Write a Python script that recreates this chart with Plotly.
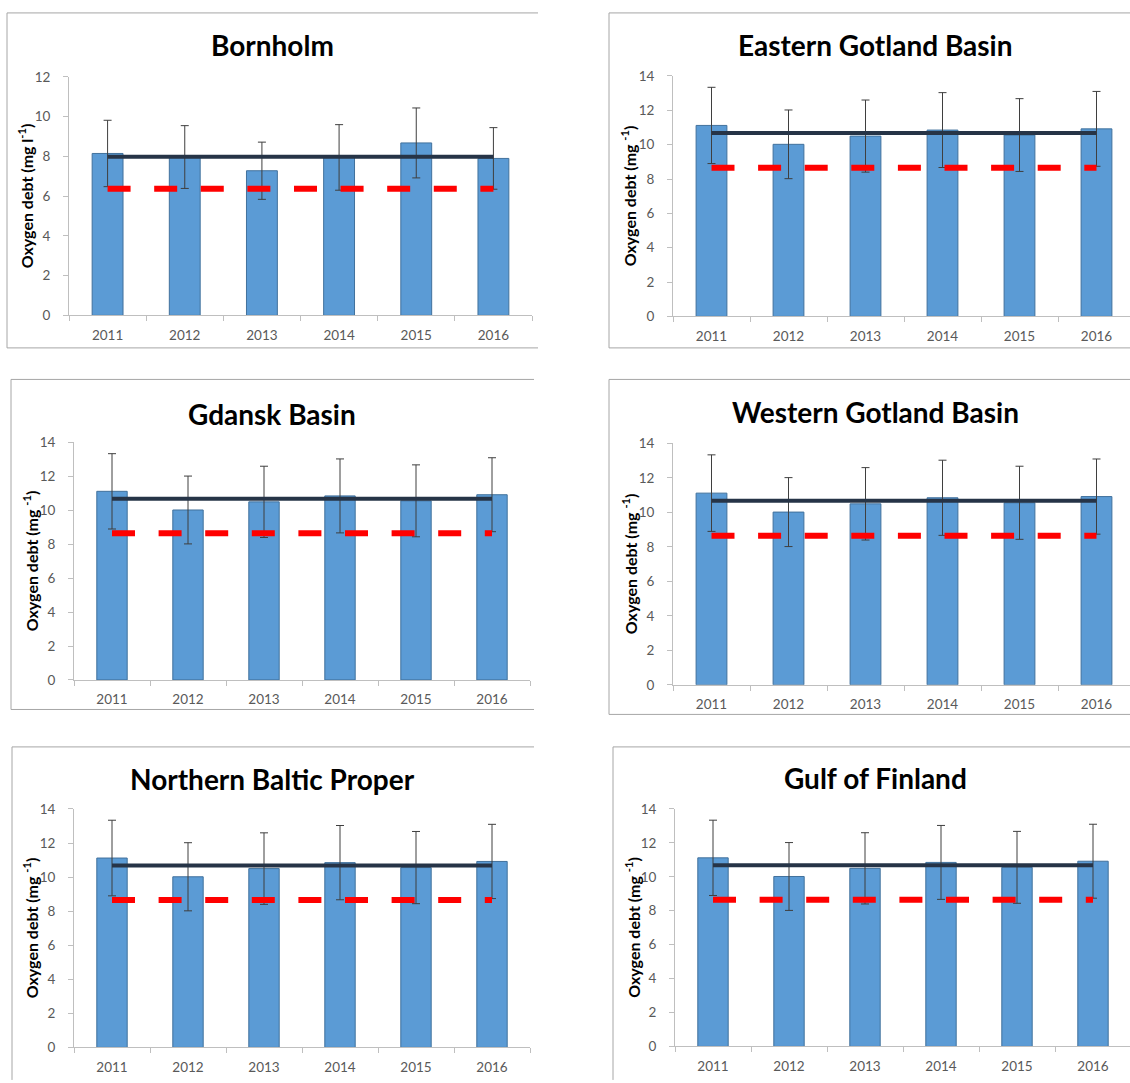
import plotly.graph_objects as go

W, H = 1130, 1083

# ---------------- data ----------------
years = ["2011", "2012", "2013", "2014", "2015", "2016"]
region_names = ["Bornholm", "Eastern Gotland Basin", "Gdansk Basin",
                "Western Gotland Basin", "Northern Baltic Proper", "Gulf of Finland"]

bornholm_values = [8.15, 7.97, 7.28, 7.95, 8.68, 7.90]
bornholm_errors = [1.67, 1.58, 1.44, 1.65, 1.76, 1.55]
bornholm_average = 7.98
bornholm_target = 6.38

basin_values = [11.12, 10.02, 10.50, 10.85, 10.56, 10.92]
basin_errors = [2.22, 2.00, 2.10, 2.18, 2.12, 2.18]
basin_average = 10.68
basin_target = 8.65

y_max = [12, 14, 14, 14, 14, 14]
y_titles = ["Oxygen debt (mg l<sup>-1</sup>)"] + ["Oxygen debt (mg <sup>-1</sup>)"] * 5

values = [bornholm_values] + [basin_values] * 5
errors = [bornholm_errors] + [basin_errors] * 5
averages = [bornholm_average] + [basin_average] * 5
targets = [bornholm_target] + [basin_target] * 5

# ---------------- layout geometry (screen pixels) ----------------
plot_boxes = [
    (69, 532, 70, 312),
    (673, 1135, 69, 313),
    (74, 530, 441, 682),
    (673, 1135, 442, 687),
    (74, 530, 813, 1055),
    (675, 1131, 813, 1054),
]
title_pos = [(272, 38), (875, 38), (272, 412), (875, 410), (272, 783), (875, 782)]
ytitle_x = [25, 628, 30, 629, 30, 633]
borders = [
    (7, 5, 538, 345),
    (609, 5, None, 345),
    (11, 377, 534, 712),
    (609, 377, None, 717),
    (12, 750, 534, None),
    (613, 750, None, None),
]


def px(x):
    return x / W


def py(y):
    return 1 - y / H


def clamp(v):
    return max(0.0, min(1.0, v))


BAR = "#5B9BD5"
BAR_EDGE = "#41719C"
AXIS = "#BFBFBF"
FONT = "Lato, Open Sans, sans-serif"
TICKFONT = dict(family=FONT, size=13.5, color="#595959")

fig = go.Figure()
layout = dict(
    width=W, height=H, margin=dict(l=0, r=0, t=0, b=0),
    paper_bgcolor="white", plot_bgcolor="white",
    showlegend=False, bargap=0.6,
    annotations=[], shapes=[],
)

for i in range(6):
    n = "" if i == 0 else str(i + 1)
    xref, yref = "x" + n, "y" + n
    x0, x1, yt, yb = plot_boxes[i]
    step = (x1 - x0) / 6.0
    xend = min(x1, W)
    r_end = -0.5 + (xend - x0) / step

    fig.add_trace(go.Bar(
        x=years, y=values[i], xaxis=xref, yaxis=yref,
        marker=dict(color=BAR, line=dict(color=BAR_EDGE, width=1)),
        error_y=dict(type="data", array=errors[i], visible=True,
                     color="#3F3F3F", thickness=1, width=4),
        hoverinfo="x+y",
    ))
    fig.add_trace(go.Scatter(
        x=[years[0], years[-1]], y=[averages[i], averages[i]],
        xaxis=xref, yaxis=yref, mode="lines",
        line=dict(color="#263447", width=4),
    ))
    fig.add_trace(go.Scatter(
        x=[years[0], years[-1]], y=[targets[i], targets[i]],
        xaxis=xref, yaxis=yref, mode="lines",
        line=dict(color="#FF0000", width=6, dash="23px,23.6px"),
    ))

    layout["xaxis" + n] = dict(
        domain=[clamp(px(x0)), clamp(px(xend))], anchor=yref, type="category",
        range=[-0.5, r_end], tickson="boundaries", ticks="outside",
        ticklen=5, tickcolor=AXIS, showline=True, linecolor=AXIS, linewidth=1,
        showgrid=False, zeroline=False, tickfont=TICKFONT,
        ticklabelstandoff=7, fixedrange=True,
    )
    layout["yaxis" + n] = dict(
        domain=[clamp(py(yb)), clamp(py(yt))], anchor=xref,
        range=[0, y_max[i]], dtick=2, ticks="outside", ticklen=5,
        tickcolor=AXIS, showline=True, linecolor=AXIS, linewidth=1,
        showgrid=False, zeroline=False, tickfont=TICKFONT,
        ticklabelstandoff=10, fixedrange=True,
    )

    tx, ty = title_pos[i]
    layout["annotations"].append(dict(
        text=region_names[i], x=px(tx), y=py(ty), xref="paper", yref="paper",
        xanchor="center", yanchor="middle", showarrow=False,
        font=dict(family=FONT, size=28, color="black", weight="bold"),
    ))
    layout["annotations"].append(dict(
        text=y_titles[i], x=px(ytitle_x[i]), y=py((yt + yb) / 2),
        xref="paper", yref="paper", xanchor="center", yanchor="middle",
        textangle=-90, showarrow=False,
        font=dict(family=FONT, size=16, color="black", weight="bold"),
    ))

    bl, bt, br, bb = borders[i]
    right = br if br is not None else W + 5
    bottom = bb if bb is not None else H + 5
    line_style = dict(color="#A6A6A6", width=1)
    segs = [(bl, bt, right, bt), (bl, bt, bl, bottom)]
    if bb is not None:
        segs.append((bl, bb, right, bb))
    for (ax0, ay0, ax1, ay1) in segs:
        layout["shapes"].append(dict(
            type="line", xref="paper", yref="paper",
            x0=px(ax0), x1=px(ax1), y0=py(ay0), y1=py(ay1),
            line=line_style, layer="above",
        ))

fig.update_layout(**layout)
fig.write_html(
    "out.html",
    config={"displayModeBar": False},
    post_script="document.body.style.margin='0';"
                "document.documentElement.style.overflow='hidden';",
)
